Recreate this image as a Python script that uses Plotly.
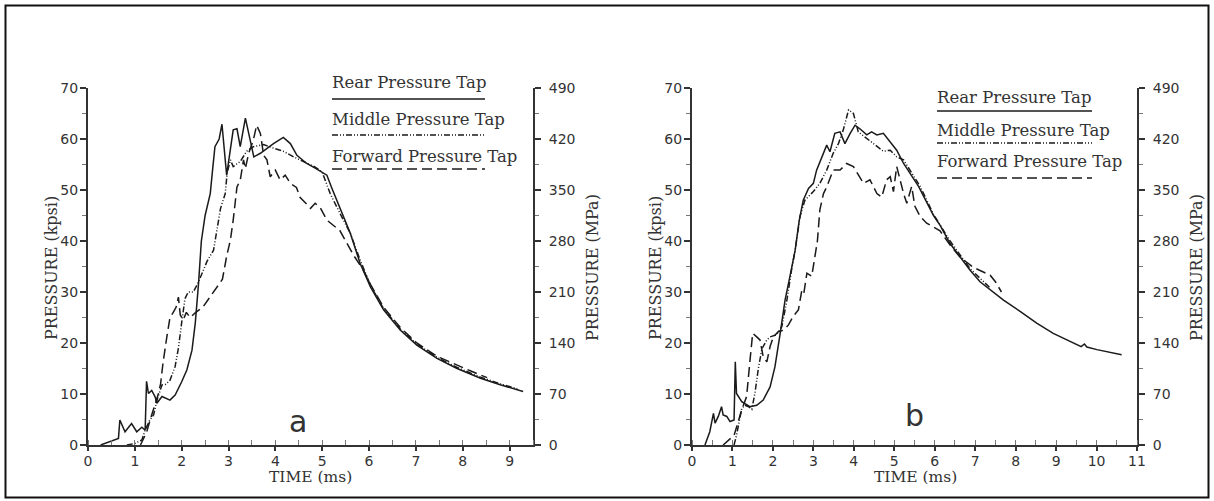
import plotly.graph_objects as go

# ---------------- data (panel a) ----------------
a_rear_t = [0.27, 0.45, 0.65, 0.68, 0.79, 0.93, 1.04, 1.15, 1.22, 1.25, 1.29, 1.36, 1.43, 1.47, 1.58, 1.75,
            1.86, 2.0, 2.11, 2.22, 2.29, 2.36, 2.42, 2.50, 2.61, 2.66, 2.71, 2.80, 2.86, 2.96, 3.10, 3.18,
            3.25, 3.36, 3.46, 3.54, 3.68, 3.82, 3.96, 4.17, 4.32, 4.46, 4.67, 4.85, 5.0, 5.10, 5.20, 5.31,
            5.45, 5.60, 5.81, 6.03, 6.31, 6.67, 7.02, 7.45, 7.88, 8.38, 8.80, 9.29]
a_rear_p = [0, 0.6, 1.3, 4.9, 2.6, 4.2, 2.6, 3.5, 2.9, 12.5, 10.1, 10.7, 9.5, 8.2, 9.5, 8.8,
            9.8, 12.4, 14.7, 18.6, 23.9, 31.7, 40.0, 45.0, 49.3, 54.0, 58.5, 60.0, 62.9, 52.9, 61.8, 62.0,
            58.5, 64.1, 59.5, 56.5, 57.2, 58.2, 59.1, 60.3, 59.1, 56.8, 55.2, 54.3, 53.5, 52.9, 50.5, 48.0,
            45.0, 41.5, 35.6, 31.0, 26.5, 22.5, 19.6, 17.0, 15.0, 13.1, 11.8, 10.5]

a_mid_t = [0.83, 1.0, 1.15, 1.22, 1.32, 1.40, 1.48, 1.58, 1.66, 1.75, 1.86, 1.93, 2.0, 2.07, 2.14, 2.25,
           2.36, 2.45, 2.54, 2.68, 2.75, 2.83, 2.93, 2.97, 3.04, 3.10, 3.25, 3.39, 3.53, 3.75, 3.96, 4.17,
           4.39, 4.67, 4.85, 5.0, 5.17, 5.38, 5.6, 5.8, 6.03, 6.31, 6.67, 7.02, 7.45, 7.88, 8.38, 8.80, 9.2]
a_mid_p = [0, 0.3, 1.0, 2.9, 4.9, 5.9, 9.0, 11.8, 11.9, 12.7, 15.4, 19.0, 24.0, 28.7, 30.0, 30.0,
           32.0, 34.0, 36.0, 38.2, 42.0, 46.4, 49.3, 53.3, 55.9, 54.6, 55.6, 57.6, 58.5, 58.9, 58.2, 57.6,
           56.5, 55.2, 54.5, 53.5, 49.3, 45.4, 41.5, 36.5, 31.3, 26.7, 22.7, 19.8, 17.2, 15.2, 13.3, 12.0, 10.9]

a_fwd_t = [1.12, 1.25, 1.33, 1.42, 1.50, 1.55, 1.60, 1.68, 1.75, 1.82, 1.88, 1.93, 1.97, 2.03, 2.10, 2.18,
           2.30, 2.45, 2.56, 2.65, 2.75, 2.87, 2.96, 3.04, 3.10, 3.18, 3.25, 3.32, 3.36, 3.43, 3.53, 3.60,
           3.68, 3.75, 3.82, 3.89, 4.00, 4.10, 4.21, 4.32, 4.45, 4.53, 4.64, 4.75, 4.85, 4.96, 5.10, 5.38,
           5.67, 5.88, 6.03, 6.31, 6.67, 7.02, 7.45, 7.88, 8.20, 8.52]
a_fwd_p = [0, 2.5, 5.0, 7.5, 10.0, 12.0, 16.0, 21.0, 25.0, 26.0, 27.0, 29.0, 25.5, 24.5, 26.0, 25.0,
           26.0, 27.0, 28.4, 29.5, 31.0, 32.5, 37.0, 40.2, 44.1, 50.6, 51.9, 55.9, 54.2, 57.2, 59.8, 62.7,
           61.1, 56.8, 55.9, 52.6, 53.9, 52.0, 52.9, 51.3, 50.5, 48.5, 47.5, 46.4, 47.4, 46.5, 44.1, 42.0,
           37.2, 34.3, 31.5, 27.0, 23.0, 20.0, 17.4, 15.6, 14.4, 13.2]

# ---------------- data (panel b) ----------------
b_rear_t = [0.32, 0.44, 0.53, 0.57, 0.65, 0.73, 0.77, 0.86, 0.94, 1.04, 1.07, 1.10, 1.23, 1.43, 1.60, 1.76,
            1.93, 2.05, 2.18, 2.30, 2.42, 2.55, 2.65, 2.75, 2.88, 3.0, 3.08, 3.21, 3.33, 3.41, 3.53, 3.66,
            3.78, 3.91, 4.03, 4.15, 4.32, 4.44, 4.57, 4.73, 4.90, 5.06, 5.23, 5.39, 5.60, 5.97, 6.13, 6.38,
            6.63, 6.87, 7.12, 7.37, 7.70, 8.11, 8.52, 8.93, 9.43, 9.62, 9.70, 9.76, 10.01, 10.62]
b_rear_p = [0, 2.6, 6.2, 4.3, 5.6, 7.5, 5.9, 5.6, 4.6, 4.9, 16.3, 10.1, 8.5, 7.5, 7.8, 8.8,
            11.4, 15.3, 21.9, 28.4, 33.0, 38.2, 44.0, 48.0, 50.3, 51.3, 53.9, 56.5, 58.8, 57.5, 61.1, 61.4,
            59.1, 61.1, 62.7, 62.0, 60.8, 61.4, 60.8, 61.1, 59.5, 57.8, 55.2, 53.3, 50.7, 45.0, 43.1, 39.5,
            36.9, 34.3, 32.0, 30.4, 28.4, 26.2, 23.9, 21.9, 19.9, 19.3, 19.8, 19.2, 18.7, 17.7]

b_mid_t = [1.04, 1.10, 1.23, 1.31, 1.40, 1.48, 1.56, 1.64, 1.73, 1.85, 1.93, 2.09, 2.22, 2.34, 2.46, 2.55,
           2.67, 2.79, 3.0, 3.16, 3.33, 3.49, 3.62, 3.74, 3.87, 3.99, 4.11, 4.32, 4.57, 4.73, 4.90, 5.06,
           5.23, 5.39, 5.64, 5.97, 6.38, 6.87, 7.37]
b_mid_p = [0, 1.9, 7.2, 7.8, 7.5, 7.0, 10.4, 15.0, 18.9, 20.6, 21.2, 21.6, 23.2, 28.1, 34.3, 38.2,
           44.8, 48.0, 49.7, 51.3, 53.9, 57.2, 59.1, 61.8, 65.7, 65.0, 61.4, 60.1, 58.5, 57.6, 57.8, 56.5,
           55.9, 53.9, 50.7, 45.2, 40.0, 34.6, 30.8]

b_fwd_t = [0.77, 1.04, 1.23, 1.35, 1.43, 1.50, 1.60, 1.68, 1.76, 1.85, 1.93, 2.01, 2.13, 2.26, 2.38, 2.50,
           2.63, 2.71, 2.76, 2.84, 2.96, 3.04, 3.10, 3.16, 3.25, 3.33, 3.49, 3.66, 3.82, 3.99, 4.11, 4.24,
           4.40, 4.57, 4.69, 4.81, 4.90, 4.98, 5.06, 5.14, 5.23, 5.31, 5.43, 5.51, 5.64, 5.80, 5.97, 6.13,
           6.38, 6.63, 6.96, 7.37, 7.50, 7.65]
b_fwd_p = [0, 1.9, 6.9, 9.5, 16.3, 21.9, 21.2, 20.6, 17.3, 16.3, 19.3, 21.2, 22.2, 22.5, 23.5, 25.2,
           26.5, 30.1, 29.5, 33.7, 33.1, 36.9, 40.0, 46.1, 49.3, 50.6, 53.9, 53.9, 55.2, 54.6, 52.9, 51.3,
           52.0, 49.3, 48.6, 52.0, 52.6, 49.7, 54.6, 52.0, 49.3, 47.4, 50.7, 46.8, 44.8, 43.5, 42.8, 42.0,
           39.2, 36.8, 34.8, 33.3, 32.0, 30.0]

series_names = ["Rear Pressure Tap", "Middle Pressure Tap", "Forward Pressure Tap"]
kpsi_ticks = [0, 10, 20, 30, 40, 50, 60, 70]
mpa_ticks = [0, 70, 140, 210, 280, 350, 420, 490]
a_time_ticks = [0, 1, 2, 3, 4, 5, 6, 7, 8, 9]
b_time_ticks = [0, 1, 2, 3, 4, 5, 6, 7, 8, 9, 10, 11]

# ---------------- styling ----------------
W, H = 1214, 501
INK = "#1a1a1a"
AX = "#333333"
DASHES = ["solid", "6px,2px,1px,2px,1px,2px", "10px,5px"]
TICKFONT = dict(family="DejaVu Sans", size=14, color=AX)
SERIF = "DejaVu Serif"


def px_x(v):
    return v / W


def px_y(v):
    return 1 - v / H


fig = go.Figure()

panels = [
    dict(x="x", y="y", y2="y2", data=[(a_rear_t, a_rear_p), (a_mid_t, a_mid_p), (a_fwd_t, a_fwd_p)]),
    dict(x="x2", y="y3", y2="y4", data=[(b_rear_t, b_rear_p), (b_mid_t, b_mid_p), (b_fwd_t, b_fwd_p)]),
]
for pan in panels:
    for (t, p), name, dash in zip(pan["data"], series_names, DASHES):
        fig.add_trace(go.Scatter(x=t, y=p, mode="lines", name=name, showlegend=False,
                                 line=dict(color=INK, width=1.5, dash=dash),
                                 xaxis=pan["x"], yaxis=pan["y"]))
    fig.add_trace(go.Scatter(x=[], y=[], mode="lines", showlegend=False, hoverinfo="skip",
                             xaxis=pan["x"], yaxis=pan["y2"]))

ydom = [px_y(445), px_y(88)]


def xaxis_cfg(dom, rng, ticks):
    return dict(domain=dom, range=rng, tickvals=ticks, ticks="outside", ticklen=4, tickwidth=1.5,
                tickcolor=AX, showline=True, linecolor=AX, linewidth=2, showgrid=False, zeroline=False,
                tickfont=TICKFONT, automargin=False, fixedrange=True, ticklabelstandoff=-2,
                minor=dict(dtick=0.5, ticks="inside", ticklen=5, tickwidth=1, tickcolor="#777",
                           showgrid=False))


def yaxis_cfg(anchor, rng, ticks, side, overlaying=None, minor_step=5):
    d = dict(domain=ydom, range=rng, tickvals=ticks, ticks="outside", ticklen=6, tickwidth=1.5,
             tickcolor=AX, showline=True, linecolor=AX, linewidth=2, showgrid=False, zeroline=False,
             tickfont=TICKFONT, automargin=False, anchor=anchor, side=side, fixedrange=True,
             minor=dict(dtick=minor_step, ticks="outside", ticklen=4, tickwidth=1, tickcolor="#777",
                        showgrid=False))
    if overlaying:
        d["overlaying"] = overlaying
    d["ticklabelstandoff"] = 5 if side == "right" else -1
    return d


fig.update_layout(
    width=W, height=H, margin=dict(l=0, r=0, t=0, b=0),
    paper_bgcolor="white", plot_bgcolor="white",
    xaxis=xaxis_cfg([px_x(88), px_x(533)], [0, 9.5], a_time_ticks),
    xaxis2=xaxis_cfg([px_x(692), px_x(1137)], [0, 11], b_time_ticks),
    yaxis=yaxis_cfg("x", [0, 70], kpsi_ticks, "left"),
    yaxis2=yaxis_cfg("x", [0, 490], mpa_ticks, "right", overlaying="y", minor_step=35),
    yaxis3=yaxis_cfg("x2", [0, 70], kpsi_ticks, "left"),
    yaxis4=yaxis_cfg("x2", [0, 490], mpa_ticks, "right", overlaying="y3", minor_step=35),
    showlegend=False,
)

annotations = []
shapes = []

# axis titles
for cx, txt in [(51, "PRESSURE (kpsi)"), (592, "PRESSURE (MPa)"),
                (655, "PRESSURE (kpsi)"), (1196, "PRESSURE (MPa)")]:
    annotations.append(dict(text=txt, x=px_x(cx), y=px_y(268), xref="paper", yref="paper",
                            textangle=-90, showarrow=False, xanchor="center", yanchor="middle",
                            font=dict(family=SERIF, size=16, color=AX)))
for cx in [310, 915]:
    annotations.append(dict(text="TIME (ms)", x=px_x(cx), y=px_y(477), xref="paper", yref="paper",
                            showarrow=False, xanchor="center", yanchor="middle",
                            font=dict(family=SERIF, size=15.5, color=AX)))

# panel letters
for cx, cy, letter in [(298, 421, "a"), (914, 415, "b")]:
    annotations.append(dict(text=letter, x=px_x(cx), y=px_y(cy), xref="paper", yref="paper",
                            showarrow=False, xanchor="center", yanchor="middle",
                            font=dict(family="DejaVu Sans", size=30, color=AX)))

# custom legends (text above line sample)
legend_layouts = [
    dict(x0=332, x1=485, text_y=[82, 119, 156], line_y=[99, 135, 169]),
    dict(x0=937, x1=1092, text_y=[97, 130, 161], line_y=[111, 143, 178]),
]
for lg in legend_layouts:
    for name, dash, ty, ly in zip(series_names, DASHES, lg["text_y"], lg["line_y"]):
        annotations.append(dict(text=name, x=px_x(lg["x0"] - 2), y=px_y(ty), xref="paper", yref="paper",
                                showarrow=False, xanchor="left", yanchor="middle",
                                font=dict(family=SERIF, size=16.5, color=AX)))
        shapes.append(dict(type="line", xref="paper", yref="paper",
                           x0=px_x(lg["x0"]), x1=px_x(lg["x1"]), y0=px_y(ly), y1=px_y(ly),
                           line=dict(color=INK, width=1.5, dash=dash)))

# outer frame
shapes.append(dict(type="rect", xref="paper", yref="paper",
                   x0=px_x(5.5), x1=px_x(1208.5), y0=px_y(497.5), y1=px_y(5.5),
                   line=dict(color="#111111", width=2)))

fig.update_layout(annotations=annotations, shapes=shapes)

fig.write_html("out.html", config=dict(displayModeBar=False),
               post_script="document.body.style.margin='0';document.body.style.overflow='hidden';")
